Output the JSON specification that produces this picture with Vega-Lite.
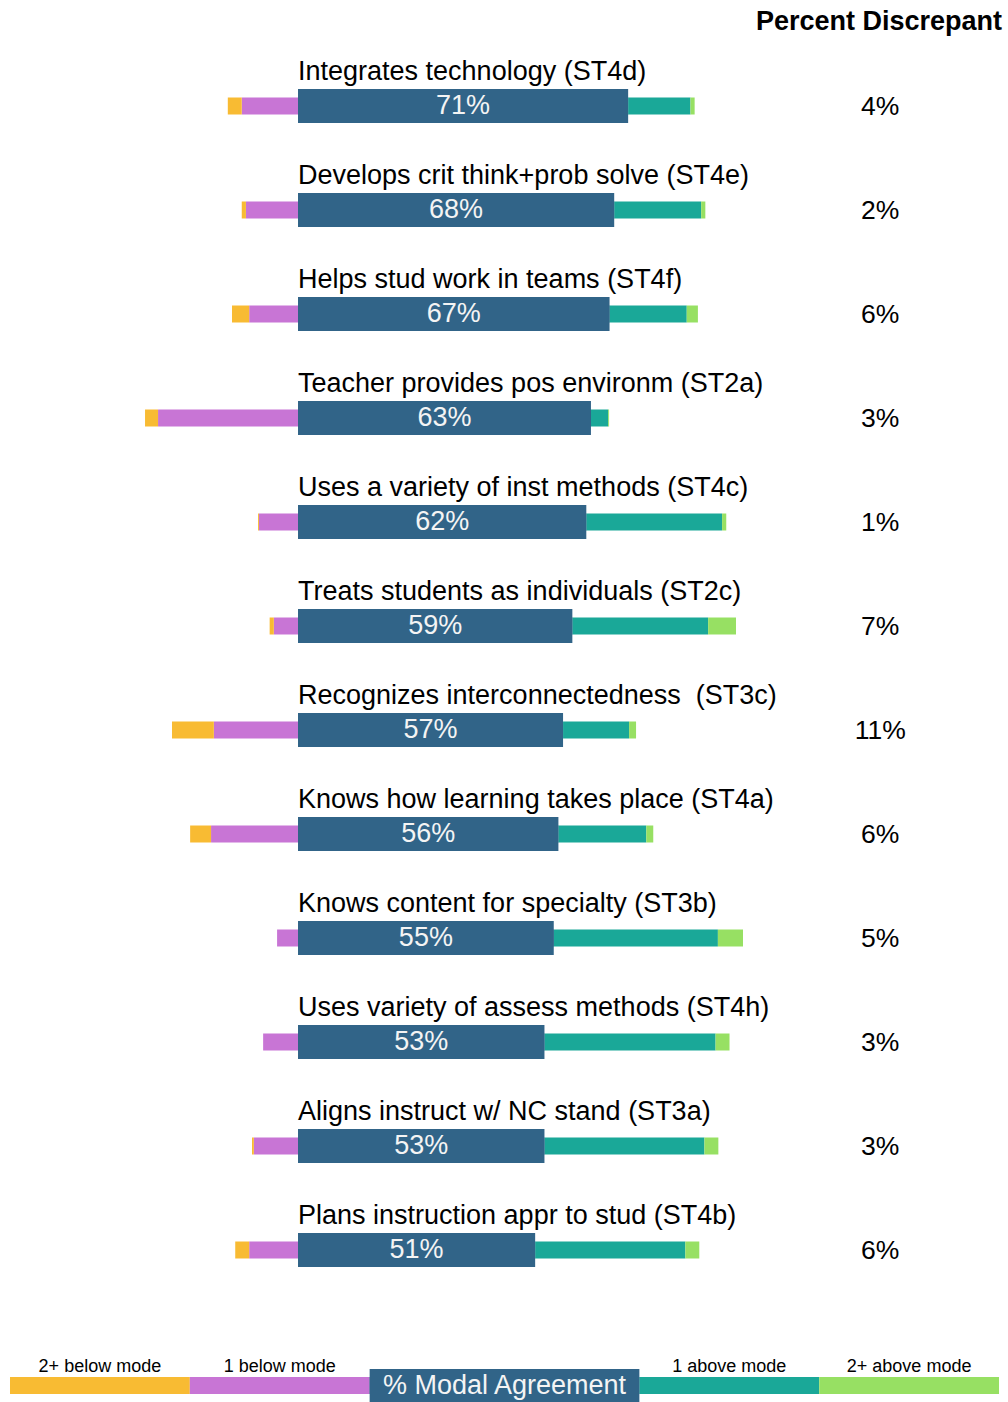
{
  "$schema": "https://vega.github.io/schema/vega-lite/v6.json",
  "width": 1008,
  "height": 1402,
  "autosize": "none",
  "padding": 0,
  "background": "white",
  "config": {"view": {"stroke": null}, "font": "Liberation Sans", "text": {"font": "Liberation Sans"}},
  "datasets": {
    "rows": [
      {"task": "Integrates technology (ST4d)", "below2": -0.030, "below1": -0.121, "modal": 0.71, "over1": 0.134, "over2": 0.009, "discrepant": 0.04},
      {"task": "Develops crit think+prob solve (ST4e)", "below2": -0.009, "below1": -0.112, "modal": 0.68, "over1": 0.187, "over2": 0.009, "discrepant": 0.02},
      {"task": "Helps stud work in teams (ST4f)", "below2": -0.037, "below1": -0.105, "modal": 0.67, "over1": 0.166, "over2": 0.024, "discrepant": 0.06},
      {"task": "Teacher provides pos environm (ST2a)", "below2": -0.028, "below1": -0.301, "modal": 0.63, "over1": 0.037, "over2": 0.002, "discrepant": 0.03},
      {"task": "Uses a variety of inst methods (ST4c)", "below2": -0.002, "below1": -0.084, "modal": 0.62, "over1": 0.292, "over2": 0.009, "discrepant": 0.01},
      {"task": "Treats students as individuals (ST2c)", "below2": -0.009, "below1": -0.052, "modal": 0.59, "over1": 0.292, "over2": 0.060, "discrepant": 0.07},
      {"task": "Recognizes interconnectedness\u00a0 (ST3c)", "below2": -0.090, "below1": -0.181, "modal": 0.57, "over1": 0.142, "over2": 0.015, "discrepant": 0.11},
      {"task": "Knows how learning takes place (ST4a)", "below2": -0.045, "below1": -0.187, "modal": 0.56, "over1": 0.189, "over2": 0.015, "discrepant": 0.06},
      {"task": "Knows content for specialty (ST3b)", "below2": 0, "below1": -0.045, "modal": 0.55, "over1": 0.353, "over2": 0.054, "discrepant": 0.05},
      {"task": "Uses variety of assess methods (ST4h)", "below2": 0, "below1": -0.075, "modal": 0.53, "over1": 0.368, "over2": 0.030, "discrepant": 0.03},
      {"task": "Aligns instruct w/ NC stand (ST3a)", "below2": -0.004, "below1": -0.095, "modal": 0.53, "over1": 0.344, "over2": 0.030, "discrepant": 0.03},
      {"task": "Plans instruction appr to stud (ST4b)", "below2": -0.030, "below1": -0.105, "modal": 0.51, "over1": 0.323, "over2": 0.030, "discrepant": 0.06}
    ],
    "legend": [
      {"key": "below2", "label": "2+ below mode", "w": 1, "idx": 1},
      {"key": "below1", "label": "1 below mode", "w": 1, "idx": 2},
      {"key": "modal", "label": "% Modal Agreement", "w": 1.5, "idx": 3},
      {"key": "over1", "label": "1 above mode", "w": 1, "idx": 4},
      {"key": "over2", "label": "2+ above mode", "w": 1, "idx": 5}
    ]
  },
  "layer": [
    {
      "data": {"name": "rows"},
      "encoding": {
        "y": {
          "field": "task", "type": "nominal", "axis": null,
          "scale": {
            "domain": ["Integrates technology (ST4d)", "Develops crit think+prob solve (ST4e)", "Helps stud work in teams (ST4f)", "Teacher provides pos environm (ST2a)", "Uses a variety of inst methods (ST4c)", "Treats students as individuals (ST2c)", "Recognizes interconnectedness\u00a0 (ST3c)", "Knows how learning takes place (ST4a)", "Knows content for specialty (ST3b)", "Uses variety of assess methods (ST4h)", "Aligns instruct w/ NC stand (ST3a)", "Plans instruction appr to stud (ST4b)"],
            "range": [54, 1302], "paddingInner": 0, "paddingOuter": 0
          }
        }
      },
      "layer": [
        {
          "transform": [{"fold": ["below1", "below2", "modal", "over1", "over2"], "as": ["key", "value"]}],
          "mark": {"type": "bar", "size": 17},
          "encoding": {
            "x": {"field": "value", "type": "quantitative", "stack": "zero", "axis": null, "scale": {"domain": [-0.6409, 1.5269], "nice": false, "zero": false}},
            "order": {"field": "key", "type": "ordinal", "sort": "ascending"},
            "color": {"field": "key", "type": "nominal", "legend": null,
              "scale": {"domain": ["below2", "below1", "modal", "over1", "over2"], "range": ["#F8BB33", "#C875D5", "#316488", "#1AA898", "#97E063"]}}
          }
        },
        {
          "mark": {"type": "bar", "size": 34, "color": "#316488"},
          "encoding": {
            "x": {"field": "modal", "type": "quantitative", "axis": null, "scale": {"domain": [-0.6409, 1.5269], "nice": false, "zero": false}}
          }
        },
        {
          "mark": {"type": "text", "fontSize": 27, "color": "#f4f4f4", "align": "center", "baseline": "alphabetic", "dy": 8},
          "encoding": {
            "x": {"field": "modal", "type": "quantitative", "stack": "zero", "bandPosition": 0.5, "axis": null, "scale": {"domain": [-0.6409, 1.5269], "nice": false, "zero": false}},
            "text": {"field": "modal", "type": "quantitative", "format": ".0%"}
          }
        },
        {
          "mark": {"type": "text", "fontSize": 27, "color": "black", "align": "left", "baseline": "alphabetic", "dy": -26},
          "encoding": {
            "x": {"datum": 0, "type": "quantitative", "axis": null, "scale": {"domain": [-0.6409, 1.5269], "nice": false, "zero": false}},
            "text": {"field": "task", "type": "nominal"}
          }
        },
        {
          "mark": {"type": "text", "fontSize": 26.5, "color": "black", "align": "center", "baseline": "alphabetic", "dy": 8.5},
          "encoding": {
            "x": {"datum": 1.252, "type": "quantitative", "axis": null, "scale": {"domain": [-0.6409, 1.5269], "nice": false, "zero": false}},
            "text": {"field": "discrepant", "type": "quantitative", "format": ".0%"}
          }
        },
        {
          "data": {"values": [{"header": "Percent Discrepant"}]},
          "mark": {"type": "text", "fontSize": 27, "fontWeight": "bold", "color": "black", "align": "right", "baseline": "alphabetic", "dy": -76},
          "encoding": {
            "y": {"datum": "Integrates technology (ST4d)", "type": "nominal"},
            "x": {"datum": 1.514, "type": "quantitative", "axis": null, "scale": {"domain": [-0.6409, 1.5269], "nice": false, "zero": false}},
            "text": {"field": "header", "type": "nominal"}
          }
        }
      ]
    },
    {
      "data": {"name": "legend"},
      "encoding": {
        "y": {"datum": "legend", "type": "nominal", "axis": null, "scale": {"domain": ["legend"], "range": [1369, 1402], "paddingInner": 0, "paddingOuter": 0}},
        "x": {"field": "w", "type": "quantitative", "stack": "zero", "axis": null, "scale": {"domain": [-0.0556, 5.5499], "nice": false, "zero": false}},
        "order": {"field": "idx", "type": "quantitative", "sort": "ascending"}
      },
      "layer": [
        {
          "mark": {"type": "bar", "size": 17},
          "encoding": {
            "color": {"field": "key", "type": "nominal", "legend": null,
              "scale": {"domain": ["below2", "below1", "modal", "over1", "over2"], "range": ["#F8BB33", "#C875D5", "#316488", "#1AA898", "#97E063"]}}
          }
        },
        {
          "mark": {"type": "bar", "size": 33, "color": "#316488"},
          "encoding": {
            "opacity": {"condition": {"test": "datum.key === 'modal'", "value": 1}, "value": 0}
          }
        },
        {
          "mark": {"type": "text", "fontSize": 18, "color": "black", "align": "center", "baseline": "alphabetic", "dy": -13.5},
          "encoding": {
            "x": {"field": "w", "type": "quantitative", "stack": "zero", "bandPosition": 0.5, "axis": null, "scale": {"domain": [-0.0556, 5.5499], "nice": false, "zero": false}},
            "text": {"condition": {"test": "datum.key === 'modal'", "value": ""}, "field": "label", "type": "nominal"}
          }
        },
        {
          "mark": {"type": "text", "fontSize": 27, "color": "#f4f4f4", "align": "center", "baseline": "alphabetic", "dy": 8.5},
          "encoding": {
            "x": {"field": "w", "type": "quantitative", "stack": "zero", "bandPosition": 0.5, "axis": null, "scale": {"domain": [-0.0556, 5.5499], "nice": false, "zero": false}},
            "text": {"condition": {"test": "datum.key !== 'modal'", "value": ""}, "field": "label", "type": "nominal"}
          }
        }
      ]
    }
  ],
  "resolve": {"scale": {"x": "independent", "y": "independent"}}
}
